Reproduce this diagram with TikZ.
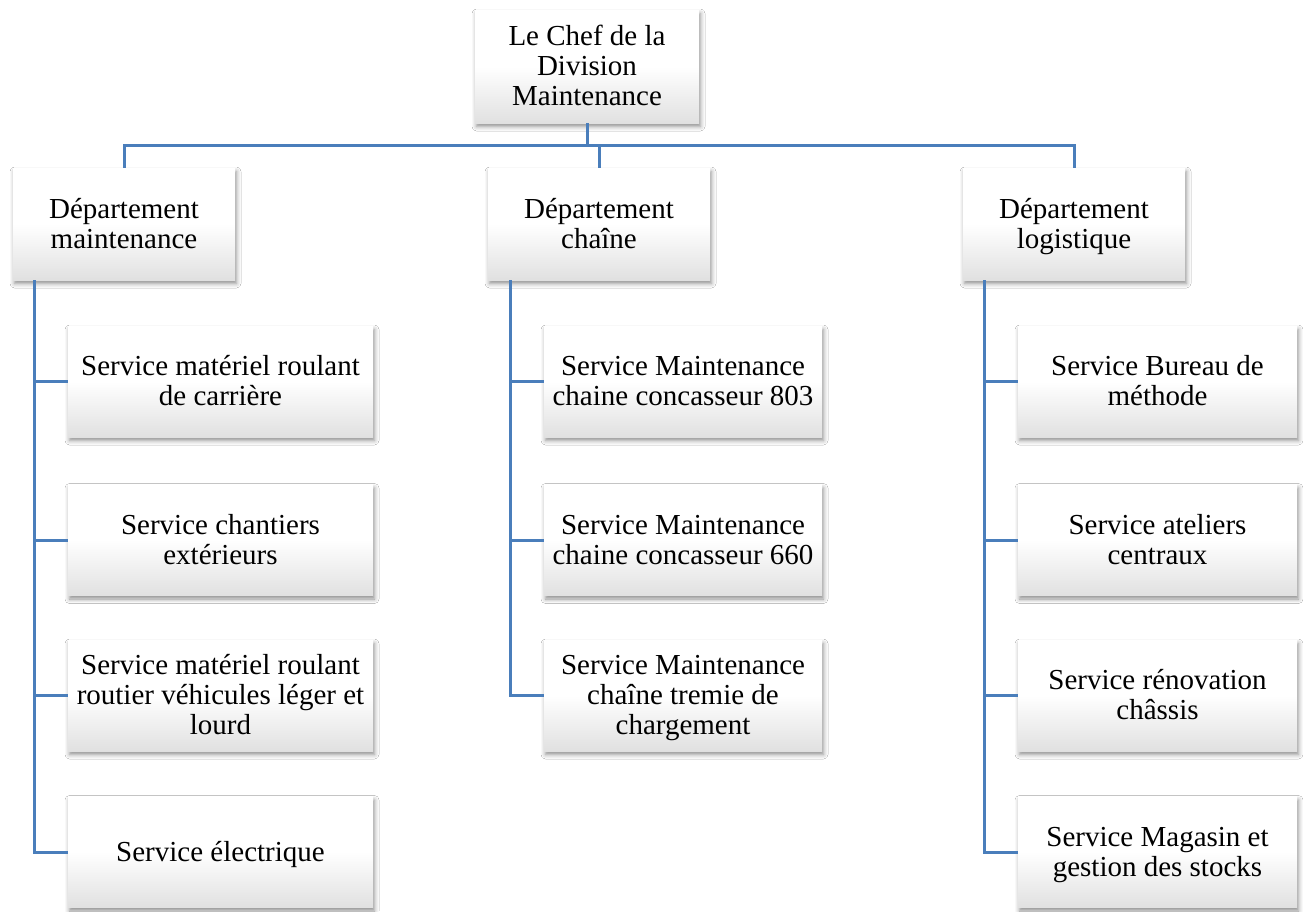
\documentclass[tikz,border=0pt]{standalone}
\usepackage{fontspec}
\setmainfont{Liberation Serif}
\usetikzlibrary{shadows.blur}
\definecolor{linkblue}{HTML}{4A7EBB}
% centred block of lines, with a taller first row so the text sits a little low
\newcommand\orgtext[1]{\begin{tabular}{@{}c@{}}\rule{0pt}{27pt}#1\end{tabular}}
\tikzset{
  orgbox/.style={rectangle, inner sep=0pt,
    font=\fontsize{29}{30}\selectfont,
    top color=white, bottom color=black!12, middle color=white,
    blur shadow={shadow xshift=1.5pt, shadow yshift=-3.5pt,
                 shadow blur radius=4.5pt, shadow opacity=45}},
  chefbox/.style={orgbox, minimum width=224pt, minimum height=113pt},
  deptbox/.style={orgbox, minimum width=222pt, minimum height=112pt},
  servbox/.style={orgbox, minimum height=111pt},
  link/.style={draw=linkblue, line width=3pt}
}
\begin{document}
\begin{tikzpicture}[x=1pt, y=-1pt]
  \fill[white] (0,0) rectangle (1303,911);
  \useasboundingbox (0,0) rectangle (1303,911);

  % head of the division
  \node[chefbox] (chef) at (587,66.5) {\orgtext{Le Chef de la\\Division\\Maintenance}};

  % departments
  \node[deptbox] (dm) at (124,224) {\orgtext{Département\\maintenance}};
  \node[deptbox] (dc) at (599,224) {\orgtext{Département\\chaîne}};
  \node[deptbox] (dl) at (1074,224) {\orgtext{Département\\logistique}};

  % services of the maintenance department
  \node[servbox, minimum width=305pt] (m1) at (220.5,381.5) {\orgtext{Service matériel roulant\\de carrière}};
  \node[servbox, minimum width=305pt] (m2) at (220.5,540) {\orgtext{Service chantiers\\extérieurs}};
  \node[servbox, minimum width=305pt] (m3) at (220.5,695.5) {\orgtext{Service matériel roulant\\routier véhicules léger et\\lourd}};
  \node[servbox, minimum width=305pt] (m4) at (220.5,852) {\orgtext{Service électrique}};

  % services of the chain department
  \node[servbox, minimum width=278pt] (c1) at (683,381.5) {\orgtext{Service Maintenance\\chaine concasseur 803}};
  \node[servbox, minimum width=278pt] (c2) at (683,540) {\orgtext{Service Maintenance\\chaine concasseur 660}};
  \node[servbox, minimum width=278pt] (c3) at (683,695.5) {\orgtext{Service Maintenance\\chaîne tremie de\\chargement}};

  % services of the logistics department
  \node[servbox, minimum width=279pt] (l1) at (1157.5,381.5) {\orgtext{Service Bureau de\\méthode}};
  \node[servbox, minimum width=279pt] (l2) at (1157.5,540) {\orgtext{Service ateliers\\centraux}};
  \node[servbox, minimum width=279pt] (l3) at (1157.5,695.5) {\orgtext{Service rénovation\\châssis}};
  \node[servbox, minimum width=279pt] (l4) at (1157.5,852) {\orgtext{Service Magasin et\\gestion des stocks}};

  % top-level bus
  \coordinate (bus) at (0,145);
  \draw[link] (chef.south) -- (chef.south |- bus);
  \draw[link] (dm.north) -- (dm.north |- bus) -- (dl.north |- bus) -- (dl.north);
  \draw[link] (dc.north) -- (dc.north |- bus);

  % department trunks
  \coordinate (tm) at ([xshift=22pt]dm.south west);
  \coordinate (tc) at ([xshift=23pt]dc.south west);
  \coordinate (tl) at ([xshift=22pt]dl.south west);

  \draw[link] (tm) |- (m4.west);
  \draw[link] (m1.west) -- (m1.west -| tm);
  \draw[link] (m2.west) -- (m2.west -| tm);
  \draw[link] (m3.west) -- (m3.west -| tm);

  \draw[link] (tc) |- (c3.west);
  \draw[link] (c1.west) -- (c1.west -| tc);
  \draw[link] (c2.west) -- (c2.west -| tc);

  \draw[link] (tl) |- (l4.west);
  \draw[link] (l1.west) -- (l1.west -| tl);
  \draw[link] (l2.west) -- (l2.west -| tl);
  \draw[link] (l3.west) -- (l3.west -| tl);
\end{tikzpicture}
\end{document}
